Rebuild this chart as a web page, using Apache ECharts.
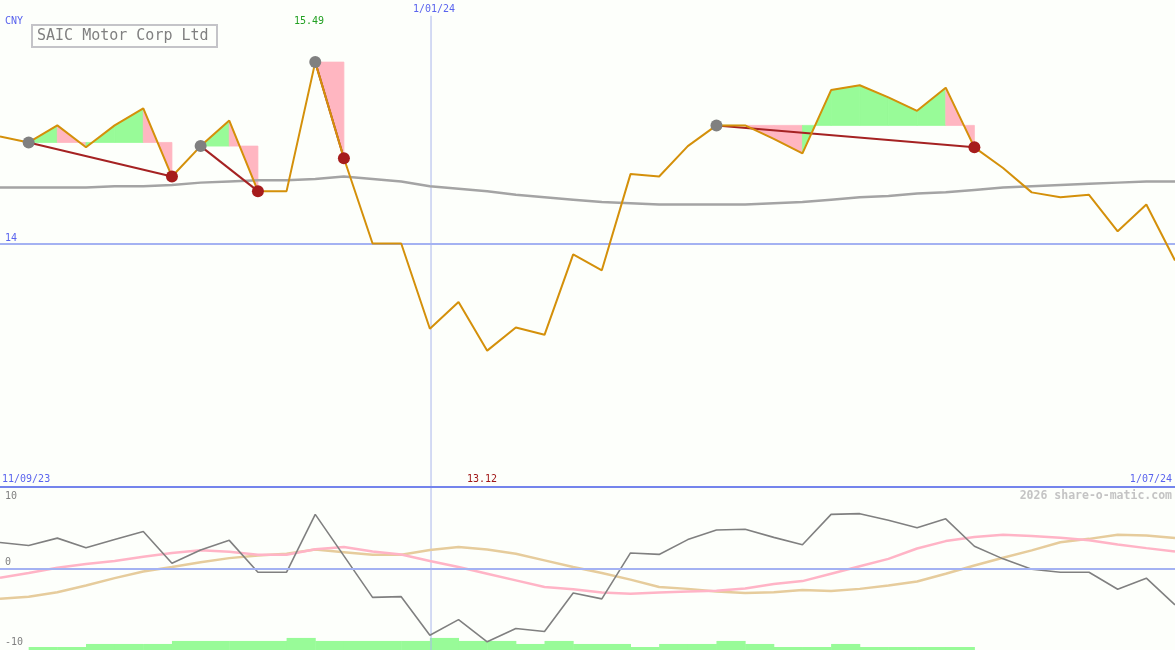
<!DOCTYPE html>
<html><head><meta charset="utf-8">
<script src="https://cdn.jsdelivr.net/npm/echarts@6.0.0/dist/echarts.min.js"></script>
<style>html,body{margin:0;padding:0;background:#fdfffb;}#c{width:1175px;height:650px;}</style>
</head><body><div id="c"></div>
<script>
// ---- data (weekly closes, CNY) ----
const title = 'SAIC Motor Corp Ltd';
const currency = 'CNY';
const dateLabels = ['11/09/23', '1/01/24', '1/07/24'];
const jan1Index = 15.04;
const priceTick = 14;
const oscTicks = [10, 0, -10];
const price = [14.88, 14.83, 14.97, 14.79, 14.97, 15.11, 14.55, 14.80, 15.01, 14.43, 14.43, 15.49, 14.70, 14.00, 14.00, 13.30, 13.52, 13.12, 13.31, 13.25, 13.91, 13.78, 14.57, 14.55, 14.80, 14.97, 14.97, 14.86, 14.74, 15.26, 15.30, 15.20, 15.09, 15.28, 14.79, 14.62, 14.42, 14.38, 14.40, 14.10, 14.32, 13.86];
const movingAvg = [14.46, 14.46, 14.46, 14.46, 14.47, 14.47, 14.48, 14.50, 14.51, 14.52, 14.52, 14.53, 14.55, 14.53, 14.51, 14.47, 14.45, 14.43, 14.40, 14.38, 14.36, 14.34, 14.33, 14.32, 14.32, 14.32, 14.32, 14.33, 14.34, 14.36, 14.38, 14.39, 14.41, 14.42, 14.44, 14.46, 14.47, 14.48, 14.49, 14.50, 14.51, 14.51];
const trades = [[1, 6], [7, 9], [11, 12], [25, 34]]; // [entry index, exit index]
const oscMomentum = [3.5, 3.1, 4.1, 2.8, 3.9, 5.0, 0.7, 2.5, 3.8, -0.5, -0.5, 7.3, 1.7, -3.9, -3.8, -9.0, -6.9, -9.9, -8.1, -8.5, -3.3, -4.1, 2.1, 1.9, 3.9, 5.2, 5.3, 4.2, 3.2, 7.3, 7.4, 6.5, 5.5, 6.7, 3.0, 1.3, -0.1, -0.5, -0.5, -2.8, -1.3, -4.9];
const oscPink = [-1.25, -0.6, 0.1, 0.6, 1.0, 1.6, 2.1, 2.45, 2.27, 1.86, 1.86, 2.6, 2.9, 2.3, 1.9, 1.0, 0.2, -0.7, -1.6, -2.5, -2.8, -3.25, -3.4, -3.25, -3.1, -3.0, -2.7, -2.1, -1.7, -0.7, 0.3, 1.3, 2.7, 3.7, 4.25, 4.55, 4.4, 4.15, 3.8, 3.25, 2.75, 2.3];
const oscTan = [-4.1, -3.8, -3.2, -2.3, -1.3, -0.4, 0.2, 0.85, 1.4, 1.75, 2.0, 2.55, 2.2, 1.85, 1.85, 2.5, 2.9, 2.55, 2.0, 1.1, 0.2, -0.6, -1.5, -2.5, -2.75, -3.1, -3.3, -3.2, -2.9, -3.05, -2.75, -2.3, -1.75, -0.7, 0.4, 1.45, 2.45, 3.55, 4.0, 4.55, 4.45, 4.1];
const volStart = 1;
const volume = [1, 1, 2, 2, 2, 3, 3, 3, 3, 4, 3, 3, 3, 3, 4, 3, 3, 2, 3, 2, 2, 1, 2, 2, 3, 2, 1, 1, 2, 1, 1, 1, 1];

// ---- derived ----
const xy = arr => arr.map((v, i) => [i, v]);
const fillSegs = [];
trades.forEach(([a, b]) => {
  const base = price[a];
  for (let i = a; i < b; i++) fillSegs.push([i, base, price[i + 1] >= base ? 1 : 0]);
});
const entries = trades.map(([a]) => [a, price[a]]);
const exits = trades.map(([, b]) => [b, price[b]]);
const volData = volume.map((v, k) => [volStart + k, v]);
const maxP = Math.max(...price), minP = Math.min(...price);

const GREEN = '#98fb98', PINK = '#ffb6c1', BLUE = '#5a64ee', LBLUE = '#a4b2f2', VLINE = '#aab6ec';
const FONT = '10px "DejaVu Sans Mono", monospace';

const chart = echarts.init(document.getElementById('c'), null, {renderer: 'canvas'});
const txt = (text, x, y, fill, align, font) => ({type: 'text', z: 100, style: {text, x, y, fill, align: align || 'left', verticalAlign: 'middle', font: font || FONT}});

chart.setOption({
  animation: false,
  backgroundColor: '#fdfffb',
  grid: [
    {left: 0, right: 0, top: 0, height: 487},
    {left: 0, right: 0, top: 487, height: 163}
  ],
  xAxis: [
    {type: 'value', gridIndex: 0, min: 0, max: 41, show: false},
    {type: 'value', gridIndex: 1, min: 0, max: 41, show: false}
  ],
  yAxis: [
    {type: 'value', gridIndex: 0, min: 12, max: 16, show: false},
    {type: 'value', gridIndex: 1, min: -11, max: 11, show: false},
    {type: 'value', gridIndex: 1, min: 0, max: 54, show: false}
  ],
  series: [
    { // 14 line
      type: 'line', xAxisIndex: 0, yAxisIndex: 0, data: [], z: 1, silent: true,
      markLine: {symbol: 'none', silent: true, label: {show: false}, lineStyle: {color: LBLUE, width: 2, type: 'solid'}, data: [{yAxis: priceTick}]}
    },
    { // Jan 1 vertical in top panel
      type: 'line', xAxisIndex: 0, yAxisIndex: 0, z: 1, showSymbol: false, silent: true,
      lineStyle: {color: VLINE, width: 1}, data: [[jan1Index, 15.87], [jan1Index, 12]]
    },
    { // green / pink fills
      type: 'custom', xAxisIndex: 0, yAxisIndex: 0, z: 2, silent: true,
      data: fillSegs, encode: {x: 0, y: 1},
      renderItem: (params, api) => {
        const i = api.value(0), b = api.value(1), up = api.value(2);
        const pts = [api.coord([i, price[i]]), api.coord([i + 1, price[i + 1]]), api.coord([i + 1, b]), api.coord([i, b])];
        const c = up ? GREEN : PINK;
        return {type: 'polygon', shape: {points: pts}, style: {fill: c, stroke: c, lineWidth: 0.8}};
      }
    },
    { // moving average
      type: 'line', xAxisIndex: 0, yAxisIndex: 0, z: 3, showSymbol: false, silent: true,
      lineStyle: {color: '#a4a4a4', width: 2.5}, data: xy(movingAvg)
    },
    { // trade lines
      type: 'custom', xAxisIndex: 0, yAxisIndex: 0, z: 4, silent: true,
      data: trades.map(([a, b]) => [a, price[a], b, price[b]]), encode: {x: 0, y: 1},
      renderItem: (params, api) => {
        const p1 = api.coord([api.value(0), api.value(1)]);
        const p2 = api.coord([api.value(2), api.value(3)]);
        return {type: 'line', shape: {x1: p1[0], y1: p1[1], x2: p2[0], y2: p2[1]}, style: {stroke: '#a52222', lineWidth: 2}};
      }
    },
    { // price
      type: 'line', xAxisIndex: 0, yAxisIndex: 0, z: 5, showSymbol: false, silent: true,
      lineStyle: {color: '#d4900a', width: 2}, data: xy(price)
    },
    {type: 'scatter', xAxisIndex: 0, yAxisIndex: 0, z: 6, symbolSize: 12, itemStyle: {color: '#808080', opacity: 1}, data: entries, silent: true},
    {type: 'scatter', xAxisIndex: 0, yAxisIndex: 0, z: 6, symbolSize: 12, itemStyle: {color: '#a61c1c', opacity: 1}, data: exits, silent: true},

    // ---- lower panel ----
    { // volume
      type: 'custom', xAxisIndex: 1, yAxisIndex: 2, z: 1, silent: true,
      data: volData, encode: {x: 0, y: 1},
      renderItem: (params, api) => {
        const i = api.value(0), v = api.value(1);
        const p0 = api.coord([i, 0]), p1 = api.coord([i + 1, v]);
        return {type: 'rect', shape: {x: p0[0], y: p1[1], width: p1[0] - p0[0] + 0.5, height: p0[1] - p1[1]}, style: {fill: GREEN}};
      }
    },
    { // zero line
      type: 'line', xAxisIndex: 1, yAxisIndex: 1, data: [], z: 1, silent: true,
      markLine: {symbol: 'none', silent: true, label: {show: false}, lineStyle: {type: 'solid', color: LBLUE, width: 2}, data: [{yAxis: 0}]}
    },
    { // Jan 1 vertical in lower panel
      type: 'line', xAxisIndex: 1, yAxisIndex: 1, z: 1, showSymbol: false, silent: true,
      lineStyle: {color: VLINE, width: 1}, data: [[jan1Index, 11], [jan1Index, -11]]
    },
    {type: 'line', xAxisIndex: 1, yAxisIndex: 1, z: 2, showSymbol: false, silent: true, lineStyle: {color: '#e6cc9c', width: 2.5}, data: xy(oscTan)},
    {type: 'line', xAxisIndex: 1, yAxisIndex: 1, z: 2, showSymbol: false, silent: true, lineStyle: {color: '#ffb4c6', width: 2.5}, data: xy(oscPink)},
    {type: 'line', xAxisIndex: 1, yAxisIndex: 1, z: 3, showSymbol: false, silent: true, lineStyle: {color: '#808080', width: 1.6}, data: xy(oscMomentum)}
  ],
  graphic: [
    {type: 'line', z: 50, shape: {x1: 0, y1: 487, x2: 1175, y2: 487}, style: {stroke: '#7484ec', lineWidth: 2}},
    {type: 'rect', z: 99, shape: {x: 32, y: 25, width: 185, height: 22}, style: {fill: '#fdfffb', stroke: '#c4c4c8', lineWidth: 2}},
    txt(title, 37, 36.5, '#808080', 'left', '15px "DejaVu Sans Mono", monospace'),
    txt(currency, 5, 21, BLUE),
    txt(maxP.toFixed(2), 294, 21, '#22a022'),
    txt(dateLabels[1], 413, 9, BLUE),
    txt(String(priceTick), 5, 238, BLUE),
    txt(dateLabels[0], 2, 479, BLUE),
    txt(minP.toFixed(2), 467, 479, '#a01818'),
    txt(dateLabels[2], 1172, 479, BLUE, 'right'),
    txt('2026 share-o-matic.com', 1172, 496, '#c4c4c4', 'right', 'bold 11.5px "DejaVu Sans Mono", monospace'),
    txt(String(oscTicks[0]), 5, 496, '#808080'),
    txt(String(oscTicks[1]), 5, 562, '#808080'),
    txt(String(oscTicks[2]), 5, 642, '#808080')
  ]
});
</script></body></html>
